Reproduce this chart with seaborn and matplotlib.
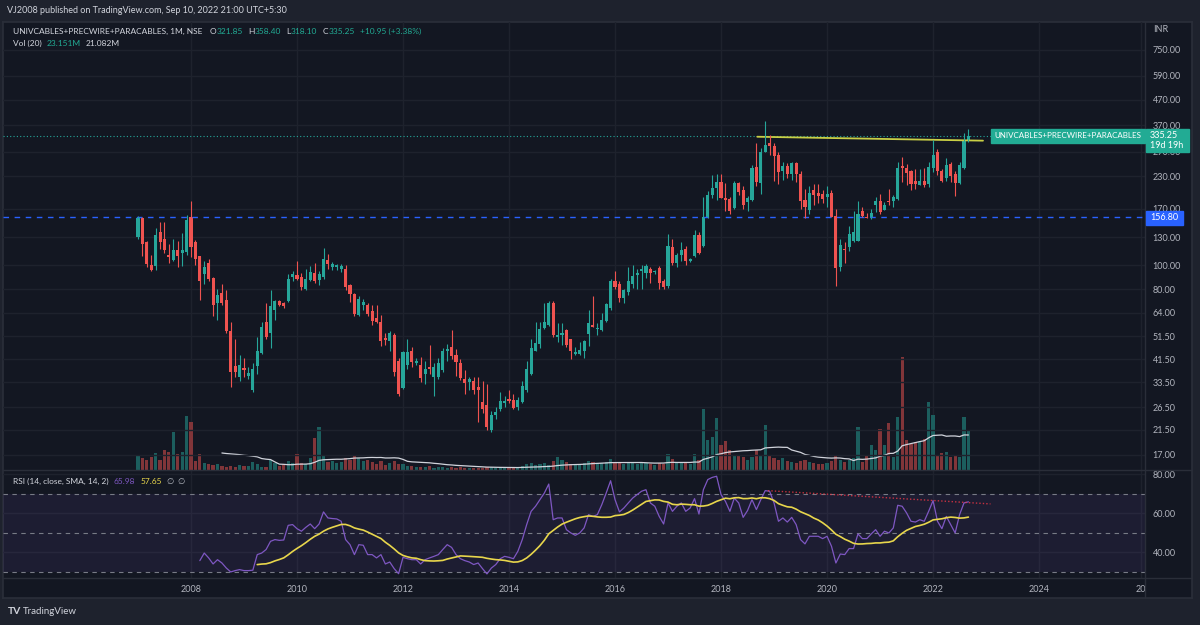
import numpy as np
import pandas as pd
import matplotlib
matplotlib.use('Agg')
import matplotlib.pyplot as plt
import seaborn as sns
from matplotlib.patches import Rectangle
from matplotlib.lines import Line2D
from matplotlib.ticker import NullLocator

# monthly candles, Jan 2007 .. Sep 2022 (one row per year)
opens = [130, 156, 124, 100, 99, 137, 128, 110, 105, 115, 112, 113,
         157, 124, 109, 92, 102, 89, 70, 77, 72, 54, 39, 35.3,
         38.3, 35.5, 31, 39, 44, 59, 53, 65.5, 71.6, 70, 71.4, 90,
         91, 89.3, 80, 87, 93, 87, 89.7, 105, 98, 98, 97, 97,
         83, 76.5, 63, 69, 69, 65, 61, 59, 50.5, 49.4, 52, 41,
         31.7, 39.2, 45, 40, 39.4, 36, 38.5, 35, 35.2, 37.5, 45, 46.5,
         43, 40, 34.5, 33.5, 34, 32, 27.8, 27, 21.4, 24.6, 26, 27.5,
         28.7, 28.4, 26.6, 27.7, 31, 36, 45, 48, 55.5, 57, 70, 51,
         52, 54.6, 50, 43.6, 43.5, 45, 52.5, 57, 55, 54.6, 59.4, 67,
         86, 84, 73.3, 78, 84, 91, 95, 93, 96.4, 94, 97.5, 86.7,
         82.3, 118.8, 102.3, 109.7, 116, 104, 108.8, 133, 119.8, 157, 192.6, 205.5,
         219, 188, 186, 171, 217, 203, 180, 184, 251, 217, 290, 313,
         306, 282, 242, 253, 236, 261, 235, 184, 168, 203, 197, 195,
         190, 197, 158, 98, 117, 118.6, 125, 126, 166.6, 157, 155, 176,
         183, 168, 181, 182, 186, 253, 248, 242, 220, 211, 220, 213,
         249, 288, 241, 226, 259, 234, 217, 249, 321.85]
highs = [158, 157, 126, 110, 142, 150, 150, 122, 128, 126, 135, 160,
         182, 127, 109, 104, 106, 90, 80, 84, 79, 58.6, 50, 43,
         42, 38.5, 40, 51, 58.6, 70, 79, 72, 72.5, 71, 92, 95,
         104, 93, 97, 99, 102, 95, 118, 111, 103, 101, 101, 100,
         84, 77, 75, 73, 70, 69, 69, 63, 53, 54, 53, 42,
         45, 50, 46.5, 42, 42.5, 41, 47.6, 40, 42, 46, 48, 54.6,
         45.6, 41.5, 37.5, 35, 35, 35, 34, 33, 25.5, 26.5, 30.5, 29.5,
         31, 30, 29.2, 34, 41, 50, 58.6, 58.6, 70, 71.5, 71.5, 58.5,
         58.5, 55, 50, 46.5, 49, 49.5, 66, 75, 58, 64, 70, 88,
         95, 86, 80, 98, 100, 97, 100, 101, 98, 96, 99, 88,
         134, 128, 112, 124, 120, 107, 139, 137, 190, 200, 232, 235,
         235, 217, 190, 220, 218, 210, 191, 255, 313, 300, 387, 340,
         313, 290, 264, 260, 262, 264, 242, 205, 210, 214, 214, 203,
         210, 203, 170, 128, 124, 145, 166, 183, 172, 163, 170, 190,
         195, 181, 205, 193, 262, 275, 259, 245, 246, 246, 248, 262,
         323, 298, 246, 272, 262, 241, 262, 345, 358.4]
lows = [128, 109, 98, 95, 96, 117, 112, 102, 103.7, 98, 99, 110,
        108, 100, 72, 84, 86, 62, 60, 69, 53, 32, 35, 34,
        35, 34.5, 30.5, 36, 43.5, 50, 46, 60, 68, 67, 71, 86,
        87, 79, 79, 86, 85, 83, 88, 97, 96, 96, 94, 79,
        71, 62, 62, 66, 62, 57, 58, 47, 47.5, 45, 35.5, 29.5,
        31.5, 38, 38.5, 39.5, 33.5, 33, 36, 29.4, 34.5, 37, 41, 41.5,
        35.5, 34.3, 30, 31, 30, 23, 25, 21.5, 21, 23.8, 25.5, 26.5,
        27.5, 26, 25.8, 27.5, 30.5, 35.8, 44.8, 46, 55, 56.5, 51, 49,
        47.5, 46.5, 41.5, 43, 43, 42, 47, 56, 52, 54, 59, 66,
        80, 71, 70, 76, 81, 80, 80, 89, 85, 92, 80, 80,
        81, 100, 98, 104, 100, 103, 108, 111, 119, 156, 188, 185,
        187, 166, 162, 170, 193, 169, 166, 183, 210, 195, 288, 280,
        220, 213, 222, 226, 222, 218, 170, 155, 162, 176, 179, 179,
        172, 157, 82, 95, 102, 114, 124, 125, 157, 155, 154, 165,
        162, 168, 175, 173, 185, 218, 212, 202, 205, 211, 208, 209,
        240, 233, 218, 220, 218, 192, 213, 247, 318.1]
closes = [155, 122, 101, 96, 133, 124, 115, 108, 115, 109, 115, 153,
          119, 106, 86, 98, 88, 69, 76, 70, 54, 37, 37, 39.5,
          37.5, 36.5, 38, 45, 56, 51, 68, 71.6, 69, 68, 88, 92,
          88, 81.4, 88, 94, 86, 92, 106, 101, 101, 100, 99, 81.4,
          76.5, 63.5, 73, 71, 63.6, 59.4, 59, 49.4, 49.5, 53.3, 36.7, 30,
          44.6, 44.6, 40.6, 41, 34.7, 37.9, 38, 38.5, 40, 45, 45.6, 42.8,
          40.5, 34.7, 33.3, 34.5, 31, 31, 26, 22, 24.7, 25.3, 28, 28,
          28, 26.3, 28.4, 32.4, 38, 46, 48.5, 55, 58.6, 70, 52, 52,
          53, 47.6, 45, 44.4, 45.4, 49.4, 58, 56, 55.5, 60, 69.4, 86,
          81.6, 73.3, 79.3, 86.2, 90.7, 93, 96.4, 99.2, 93, 95, 84.9, 81.5,
          119.8, 101.7, 109.7, 115, 104, 106.3, 133, 111.7, 157, 192.6, 205.5, 219,
          188.3, 184.7, 166, 217, 198, 175, 188, 248, 219, 290, 309, 304,
          278, 240, 253, 235, 261, 235, 182, 173, 197, 193, 192, 186,
          195, 157, 97.5, 120.5, 115, 134.5, 136, 161, 158, 155, 163, 183,
          165, 176, 180, 189, 249, 248, 237, 213, 213, 220, 211, 251,
          282, 241, 220, 256, 230, 215, 256, 323, 335.25]
# volume in millions
volume_m = [8.1, 6.8, 5.8, 7.7, 10.0, 5.8, 11.6, 10.6, 21.8, 9.3, 10.2, 31.4,
            27.8, 5.2, 9.3, 3.9, 3.3, 2.9, 3.3, 2.3, 1.9, 2.5, 1.9, 2.9,
            2.3, 2.3, 4.8, 3.3, 1.9, 1.9, 5.8, 3.9, 2.3, 2.9, 5.2, 3.9,
            9.1, 3.9, 3.3, 6.8, 18.4, 24.7, 8.7, 4.6, 5.2, 4.1, 4.6, 6.9,
            5.8, 8.1, 6.9, 5.2, 5.8, 4.6, 3.5, 5.2, 2.9, 4.1, 5.2, 3.5,
            3.2, 2.6, 2.3, 1.7, 2.0, 1.5, 2.2, 1.2, 1.5, 1.8, 1.4, 2.0,
            1.3, 1.6, 1.1, 0.9, 1.2, 1.4, 1.0, 1.7, 1.9, 1.3, 1.6, 1.2,
            1.0, 1.4, 1.8, 2.6, 3.4, 3.9, 2.9, 3.5, 4.3, 3.1, 5.0, 7.4,
            5.6, 4.4, 3.6, 3.0, 3.4, 3.8, 5.5, 4.6, 3.2, 3.9, 4.8, 6.1,
            4.3, 3.8, 3.2, 4.1, 4.5, 3.6, 3.9, 4.2, 3.5, 2.9, 3.8, 3.4,
            9.1, 6.2, 4.1, 4.6, 4.0, 3.3, 9.4, 5.8, 35.3, 17.4, 19.1, 30.1,
            14.5, 16.8, 11.6, 8.7, 8.1, 7.5, 5.8, 7.5, 11.6, 8.7, 26.0, 8.7,
            6.9, 5.8, 6.9, 5.2, 4.6, 4.1, 5.2, 5.8, 4.6, 4.1, 3.5, 3.5,
            4.1, 5.2, 8.1, 5.8, 4.6, 5.8, 6.9, 24.9, 4.6, 8.7, 14.5, 11.6,
            23.6, 14.5, 27.2, 7.5, 30.5, 65.4, 17.4, 15.0, 16.0, 16.5, 18.0, 39.4,
            31.8, 8.7, 9.8, 10.4, 7.5, 8.7, 7.5, 30.5, 23.151]
# RSI(14) from Mar 2008 onward
rsi_vals = [35.8, 39.7, 37.2, 34.1, 36.3, 34.6, 32.0, 30.0, 30.7, 31.2, 30.7, 30.7, 30.9,
            38.9, 39.7, 41.5, 45.7, 46.6, 46.2, 46.4, 53.9, 54.3, 52.2, 50.9, 52.9, 54.6, 52.2, 54.6,
            60.8, 57.7, 57.4, 57.2, 56.0,
            46.6, 44.0, 38.9, 44.0, 43.7, 38.9, 38.9, 37.2, 38.9, 34.1, 35.1, 31.7, 29.1,
            37.5, 36.8, 36.3, 36.3, 34.1, 36.3, 37.2, 38.0, 38.9, 41.5, 44.0, 42.6,
            38.9, 36.8, 35.8, 35.1, 33.8, 34.6, 31.7, 29.0, 32.0, 33.8, 36.8, 38.0,
            37.5, 36.8, 40.6, 46.6, 54.3, 61.1, 63.7, 67.1, 70.5, 75.1, 56.8, 57.7,
            57.7, 51.7, 50.0, 48.8, 50.0, 52.6, 59.4, 58.5, 59.4, 64.5, 70.5, 76.8,
            67.1, 60.8, 62.8, 65.4, 67.9, 69.7, 71.4, 72.2, 65.4, 63.7, 58.5, 54.6,
            65.4, 61.1, 63.7, 65.4, 61.1, 62.8, 67.6, 59.7, 72.2, 77.4, 78.5, 79.1,
            69.7, 66.2, 61.1, 67.9, 65.4, 58.0, 61.5, 67.1, 62.0, 67.1, 71.7, 71.4,
            65.4, 56.0, 57.7, 55.6, 58.0, 54.3, 46.6, 44.4, 48.3, 48.3, 48.3, 47.1,
            48.3, 43.2, 34.6, 39.2, 38.9, 42.0, 42.0, 49.5, 47.1, 47.1, 49.5, 51.7,
            48.3, 50.9, 50.0, 52.6, 64.2, 63.7, 60.3, 56.0, 55.6, 56.8, 56.0, 61.1,
            66.6, 56.0, 52.2, 58.5, 54.3, 50.0, 59.4, 65.4, 65.98]

price_ticks = [17, 21.5, 26.5, 33.5, 41.5, 51.5, 64, 80, 100, 130, 170, 230, 290, 370, 470, 590, 750]
year_pos = [12, 36, 60, 84, 108, 132, 156, 180, 204, 227]
year_labels = ['2008', '2010', '2012', '2014', '2016', '2018', '2020', '2022', '2024', '20']
support_level = 156.80
last_close = 335.25
resist_x = [140.2, 191.3]
resist_y = [333, 321]
rsi_trend_x = [142.6, 193]
rsi_trend_y = [71.7, 64.9]

W, H = 1200, 625
BG = '#131722'
OUTER = '#1e222d'
GRID = '#1e222d'
BORDER = '#2a2e39'
TXT = '#b2b5be'
WHITE = '#d1d4dc'
GREEN = '#26a69a'
VALUE = '#22ab94'
RED = '#ef5350'
PURPLE = '#7e57c2'
YELLOW = '#e8d64c'

sns.set_theme(style='dark', rc={'axes.facecolor': BG, 'figure.facecolor': OUTER,
                                'grid.color': GRID, 'axes.edgecolor': BORDER,
                                'xtick.color': TXT, 'ytick.color': TXT, 'text.color': TXT})
plt.rcParams['font.family'] = ['Lato', 'DejaVu Sans']


def rect(x0, y0, x1, y1):
    return [x0 / W, 1 - y1 / H, (x1 - x0) / W, (y1 - y0) / H]


def ftext(x, y, s, color, size=6.5, **kw):
    return fig.text(x / W, 1 - y / H, s, color=color, fontsize=size, va='center', **kw)


def chain(x, y, parts, size=6.0):
    # parts: (text, colour, gap after in px)
    rend = fig.canvas.get_renderer()
    for s, c, gap in parts:
        t = ftext(x, y, s, c, size=size, family=['Lato', 'DejaVu Sans'])
        x += t.get_window_extent(renderer=rend).width + gap


def fbox(x0, y0, x1, y1, color):
    fig.add_artist(Rectangle((x0 / W, 1 - y1 / H), (x1 - x0) / W, (y1 - y0) / H,
                             transform=fig.transFigure, color=color, zorder=5))


def fline(x0, y0, x1, y1):
    fig.add_artist(Line2D([x0 / W, x1 / W], [1 - y0 / H, 1 - y1 / H],
                          transform=fig.transFigure, color=BORDER, lw=1, zorder=4))


df = pd.DataFrame({'open': opens, 'high': highs, 'low': lows, 'close': closes, 'volume': volume_m})
df['idx'] = np.arange(len(df))
up = df['close'] >= df['open']
candle_col = np.where(up, GREEN, RED)
vol_col = np.where(up, '#1c5e5e', '#813539')
df['vol_ma'] = df['volume'].rolling(20).mean()

rsi = pd.DataFrame({'idx': np.arange(14, 14 + len(rsi_vals)), 'rsi': rsi_vals})
rsi['ma'] = rsi['rsi'].rolling(14).mean()

fig = plt.figure(figsize=(W / 100, H / 100), dpi=100)

frame = fig.add_axes(rect(3, 22, 1192, 598))
frame.set_facecolor(BG)
frame.set_xticks([])
frame.set_yticks([])
for s in frame.spines.values():
    s.set_color(BORDER)

XL = (-30.56, 227.98)

# volume pane (under the candles)
axv = fig.add_axes(rect(3, 22, 1145, 470))
axv.patch.set_alpha(0)
axv.bar(df['idx'], df['volume'], width=0.72, color=vol_col, edgecolor='none', linewidth=0)
sns.lineplot(data=df, x='idx', y='vol_ma', ax=axv, color=WHITE, lw=0.9, estimator=None)
axv.set_ylim(0, 259.4)
axv.set_xlim(*XL)
axv.set_xticks(year_pos)
axv.set_yticks([])
axv.tick_params(labelbottom=False, length=0)
axv.grid(axis='x', color=GRID, lw=1)
axv.set_xlabel('')
axv.set_ylabel('')
for s in axv.spines.values():
    s.set_visible(False)

# price pane
ax = fig.add_axes(rect(3, 22, 1145, 470), sharex=axv)
ax.patch.set_alpha(0)
ax.set_yscale('log')
ax.set_ylim(14.72, 974.6)
ax.set_yticks(price_ticks)
ax.yaxis.set_minor_locator(NullLocator())
ax.set_yticklabels([f'{v:.2f}' for v in price_ticks])
ax.yaxis.tick_right()
ax.tick_params(axis='y', length=0, pad=5.5, labelsize=6.5, colors=TXT)
ax.tick_params(axis='x', length=0, labelbottom=False)
ax.grid(axis='y', color=GRID, lw=1)
ax.grid(axis='x', visible=False)
for s in ax.spines.values():
    s.set_visible(False)

ax.axhline(support_level, color='#2962ff', lw=1, dashes=(4, 4))
ax.axhline(last_close, color=GREEN, lw=0.8, ls=(0, (1, 2)))
ax.plot(resist_x, resist_y, color='#c9cf45', lw=1.3)
ax.vlines(df['idx'], df['low'], df['high'], colors=candle_col, lw=0.8)
body_lo = df[['open', 'close']].min(axis=1)
body_h = np.maximum((df['close'] - df['open']).abs(), body_lo * 0.012)
ax.bar(df['idx'], body_h, bottom=body_lo, width=0.7, color=candle_col, edgecolor='none', linewidth=0)
ax.set_xlim(*XL)

# RSI pane
axr = fig.add_axes(rect(3, 470, 1145, 578), sharex=axv)
axr.patch.set_alpha(0)
axr.set_ylim(26.9, 82.3)
axr.axhspan(30, 70, color=PURPLE, alpha=0.1, lw=0)
for lvl in (70, 50, 30):
    axr.axhline(lvl, color='#787b86', lw=0.8, dashes=(4, 4))
sns.lineplot(data=rsi, x='idx', y='rsi', ax=axr, color=PURPLE, lw=0.9, estimator=None)
sns.lineplot(data=rsi, x='idx', y='ma', ax=axr, color=YELLOW, lw=1.2, estimator=None)
axr.plot(rsi_trend_x, rsi_trend_y, color='#f23645', lw=1, ls=(0, (1, 1.5)), alpha=0.8)
axr.set_xlim(*XL)
axr.set_yticks([40, 60, 80])
axr.set_yticklabels(['40.00', '60.00', '80.00'])
axr.yaxis.tick_right()
axr.set_xticks(year_pos)
axr.set_xticklabels(year_labels)
axr.tick_params(axis='y', length=0, pad=5.5, labelsize=6.5, colors=TXT)
axr.tick_params(axis='x', length=0, pad=5, labelsize=6.5, colors=TXT)
axr.grid(axis='both', color=GRID, lw=1)
axr.set_xlabel('')
axr.set_ylabel('')
for s in axr.spines.values():
    s.set_visible(False)

# pane borders
fline(3, 470, 1192, 470)
fline(3, 578, 1192, 578)
fline(1145, 22, 1145, 598)

# price scale labels
ftext(1153, 30, 'INR', TXT)
fbox(1146, 211, 1183, 225, '#2962ff')
ftext(1150, 218, '156.80', 'white', zorder=6)
fbox(991, 129, 1145, 143, VALUE)
ftext(1068, 136, 'UNIVCABLES+PRECWIRE+PARACABLES', 'white', size=5.8, ha='center', zorder=6)
fbox(1146, 129, 1189, 152, VALUE)
ftext(1150, 135, '335.25', 'white', zorder=6)
ftext(1150, 146, '19d 19h', 'white', zorder=6)

# header texts
ftext(7, 10.5, 'VJ2008 published on TradingView.com, Sep 10, 2022 21:00 UTC+5:30', WHITE, size=6.5)
chain(13, 31.5, [('UNIVCABLES+PRECWIRE+PARACABLES, 1M, NSE', WHITE, 7),
                 ('O', WHITE, 0.5), ('321.85', VALUE, 5),
                 ('H', WHITE, 0.5), ('358.40', VALUE, 5),
                 ('L', WHITE, 0.5), ('318.10', VALUE, 5),
                 ('C', WHITE, 0.5), ('335.25', VALUE, 5),
                 ('+10.95 (+3.38%)', VALUE, 0)])
chain(13, 43.5, [('Vol (20)', WHITE, 5), ('23.151M', VALUE, 5), ('21.082M', WHITE, 0)])
chain(13, 481.5, [('RSI (14, close, SMA, 14, 2)', WHITE, 5), ('65.98', PURPLE, 5),
                  ('57.65', YELLOW, 5), ('\u2205', TXT, 4), ('\u2205', TXT, 0)])

# footer logo
ftext(8, 611.5, 'TV', WHITE, size=7.5, weight='bold')
ftext(23, 611.5, 'TradingView', WHITE, size=7)

fig.savefig('out.png', dpi=100, facecolor=OUTER)
